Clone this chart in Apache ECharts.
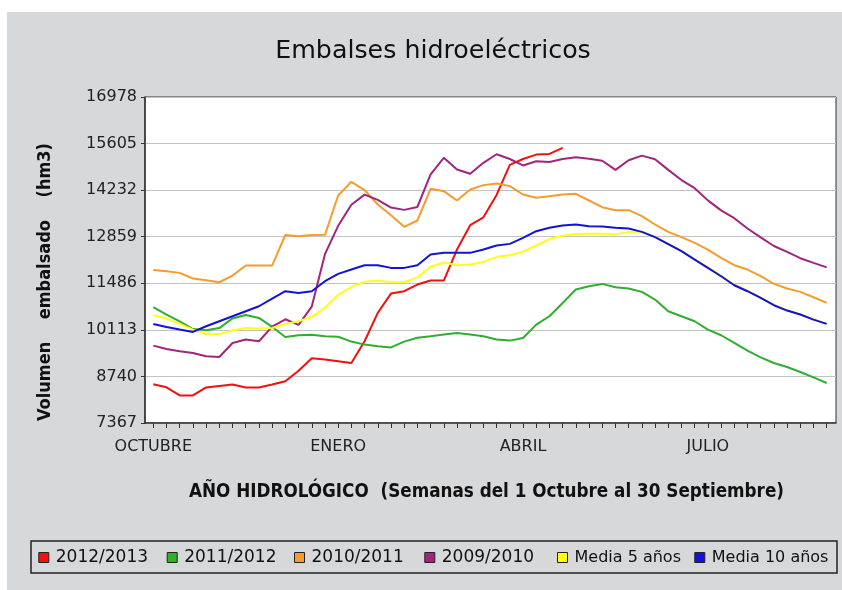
<!DOCTYPE html>
<html>
<head>
<meta charset="utf-8">
<script src="https://cdn.jsdelivr.net/npm/echarts@6/dist/echarts.min.js"></script>
<style>
  html, body { margin: 0; padding: 0; background: #ffffff; width: 842px; height: 590px; overflow: hidden; }
  #chart { position: absolute; left: 7px; top: 12px; width: 835px; height: 578px; }
</style>
</head>
<body>
<div id="chart"></div>
<script>
// ---- data ----
const weekNumbers = [1,2,3,4,5,6,7,8,9,10,11,12,13,14,15,16,17,18,19,20,21,22,23,24,25,26,
  27,28,29,30,31,32,33,34,35,36,37,38,39,40,41,42,43,44,45,46,47,48,49,50,51,52];
const monthStartWeeks = [1, 15, 29, 43];
const monthLabels = ['OCTUBRE', 'ENERO', 'ABRIL', 'JULIO'];
const yTicks = [7367, 8740, 10113, 11486, 12859, 14232, 15605, 16978];

const s2012_2013 = [8510, 8420, 8180, 8180, 8415, 8460, 8500, 8415, 8415, 8500, 8600, 8905, 9275,
  9236, 9190, 9137, 9776, 10613, 11183, 11252, 11449, 11567, 11567, 12481, 13199, 13430,
  14090, 14975, 15150, 15280, 15300, 15480];
const s2011_2012 = [10780, 10563, 10365, 10135, 10100, 10165, 10450, 10553, 10465, 10199, 9904, 9953, 9970,
  9924, 9910, 9767, 9678, 9629, 9595, 9767, 9880, 9924, 9973, 10022, 9973, 9924,
  9826, 9796, 9875, 10268, 10514, 10907, 11301, 11399, 11468, 11370, 11331, 11232, 11006,
  10662, 10514, 10367, 10121, 9954, 9727, 9501, 9304, 9137, 9019, 8872, 8714, 8547];
const s2010_2011 = [11880, 11842, 11793, 11626, 11576, 11517, 11714, 12009, 12009, 12009, 12910, 12875, 12910,
  12915, 14075, 14478, 14235, 13809, 13494, 13150, 13337, 14271, 14202, 13927, 14252, 14380,
  14430, 14350, 14104, 14006, 14055, 14104, 14124, 13927, 13730, 13642, 13642, 13465, 13219,
  13000, 12845, 12678, 12481, 12235, 12019, 11891, 11695, 11468, 11331, 11232, 11075, 10908];
const s2009_2010 = [9649, 9550, 9481, 9432, 9334, 9314, 9727, 9826, 9777, 10210, 10425, 10258, 10800,
  12345, 13180, 13800, 14100, 13945, 13720, 13650, 13735, 14694, 15186, 14842, 14714, 15038,
  15290, 15150, 14960, 15085, 15060, 15150, 15200, 15155, 15100, 14830, 15115, 15250, 15145,
  14830, 14530, 14290, 13930, 13635, 13405, 13100, 12840, 12585, 12410, 12225, 12087, 11955];
const media5 = [10544, 10446, 10288, 10121, 9993, 9993, 10091, 10170, 10150, 10170, 10288, 10367, 10490,
  10770, 11150, 11375, 11535, 11560, 11526, 11516, 11660, 11975, 12100, 12018, 12042, 12116,
  12265, 12310, 12420, 12600, 12790, 12890, 12940, 12945, 12945, 12928, 13000, 13010, 12860,
  12650, 12445, 12200, 11955, 11710, 11450, 11270, 11070, 10850, 10690, 10575, 10425, 10295];
const media10 = [10288, 10199, 10121, 10052, 10219, 10367, 10514, 10662, 10809, 11035, 11252, 11203, 11252,
  11547, 11763, 11891, 12019, 12019, 11940, 11940, 12019, 12334, 12383, 12383, 12383, 12481,
  12600, 12648, 12825, 13022, 13121, 13190, 13219, 13170, 13160, 13121, 13101, 13002, 12845,
  12640, 12432, 12186, 11940, 11694, 11429, 11252, 11055, 10839, 10682, 10564, 10416, 10288];

const seriesNames = ['2012/2013', '2011/2012', '2010/2011', '2009/2010', 'Media 5 años', 'Media 10 años'];
const seriesValues = [s2012_2013, s2011_2012, s2010_2011, s2009_2010, media5, media10];
const seriesColors = ['#ee1111', '#2fae2f', '#f49d2c', '#a0257c', '#ffff1a', '#1212d8'];

// ---- chart ----
const FONT = 'DejaVu Sans';
const FONT_COND = "'DejaVu Sans Condensed', 'Liberation Sans Narrow', 'DejaVu Sans'";
const chart = echarts.init(document.getElementById('chart'), null, { renderer: 'canvas' });

const series = seriesNames.map((name, k) => ({
  name: name,
  type: 'line',
  data: seriesValues[k].map((v, i) => [weekNumbers[i], v]),
  showSymbol: false,
  symbol: 'none',
  smooth: false,
  lineStyle: { color: seriesColors[k], width: 2 },
  itemStyle: { color: seriesColors[k] },
  emphasis: { disabled: true },
  animation: false
}));

// one legend block per entry, placed along the legend box
const legendLefts = [31.3, 159.7, 287, 417.3, 550, 687.3];
const legendFontSizes = [17, 17, 17, 17, 16, 16];
const legends = seriesNames.map((name, k) => ({
  data: [name],
  left: legendLefts[k],
  top: 535.5,
  padding: 0,
  itemWidth: 10,
  itemHeight: 10,
  icon: 'rect',
  itemStyle: { borderColor: '#222', borderWidth: 1 },
  selectedMode: false,
  textStyle: { fontFamily: FONT, fontSize: legendFontSizes[k], color: '#111', lineHeight: 20, padding: [0, 0, 0, 2] }
}));

chart.setOption({
  animation: false,
  backgroundColor: '#d7d8da',
  title: {
    text: 'Embalses hidroeléctricos',
    left: 421,
    top: 22,
    textAlign: 'center',
    textStyle: { fontFamily: FONT, fontSize: 25.3, fontWeight: 'normal', color: '#111' }
  },
  grid: {
    left: 138, right: 6, top: 85, bottom: 167,
    show: true, backgroundColor: '#ffffff', borderColor: '#333', borderWidth: 1
  },
  xAxis: {
    type: 'value',
    min: weekNumbers[0] - 0.629,
    max: weekNumbers[weekNumbers.length - 1] + 0.704,
    axisLine: { show: true, onZero: false, lineStyle: { color: '#333', width: 1.5 } },
    axisTick: { show: true, customValues: weekNumbers, length: 5, lineStyle: { color: '#333' } },
    axisLabel: {
      customValues: monthStartWeeks,
      formatter: function (v) {
        const idx = monthStartWeeks.indexOf(Math.round(v));
        return idx >= 0 ? monthLabels[idx] : '';
      },
      fontFamily: FONT, fontSize: 16, color: '#222', margin: 16
    },
    splitLine: { show: false }
  },
  yAxis: {
    type: 'value',
    min: yTicks[0],
    max: yTicks[yTicks.length - 1],
    interval: yTicks[1] - yTicks[0],
    axisLine: { show: true, lineStyle: { color: '#333', width: 1.5 } },
    axisTick: { show: true, length: 4, lineStyle: { color: '#333' } },
    axisLabel: {
      fontFamily: FONT, fontSize: 16, color: '#222', margin: 8,
      formatter: function (v) { return String(Math.round(v)); }
    },
    splitLine: { show: true, lineStyle: { color: '#c2c2c2', width: 1.2 } }
  },
  legend: legends,
  graphic: [
    {
      type: 'rect',
      shape: { x: 24, y: 529, width: 806, height: 32 },
      style: { fill: 'transparent', stroke: '#222', lineWidth: 1.5 },
      silent: true
    },
    {
      type: 'text',
      x: 479.5, y: 480,
      style: {
        text: 'AÑO HIDROLÓGICO  (Semanas del 1 Octubre al 30 Septiembre)',
        font: 'bold 18.7px ' + FONT_COND,
        fill: '#111', align: 'center', verticalAlign: 'middle'
      },
      silent: true
    },
    {
      type: 'text',
      x: 38.5, y: 270,
      rotation: Math.PI / 2,
      style: {
        text: 'Volumen    embalsado    (hm3)',
        font: 'bold 18px ' + FONT_COND,
        fill: '#111', align: 'center', verticalAlign: 'middle'
      },
      silent: true
    }
  ],
  series: series
});
</script>
</body>
</html>
